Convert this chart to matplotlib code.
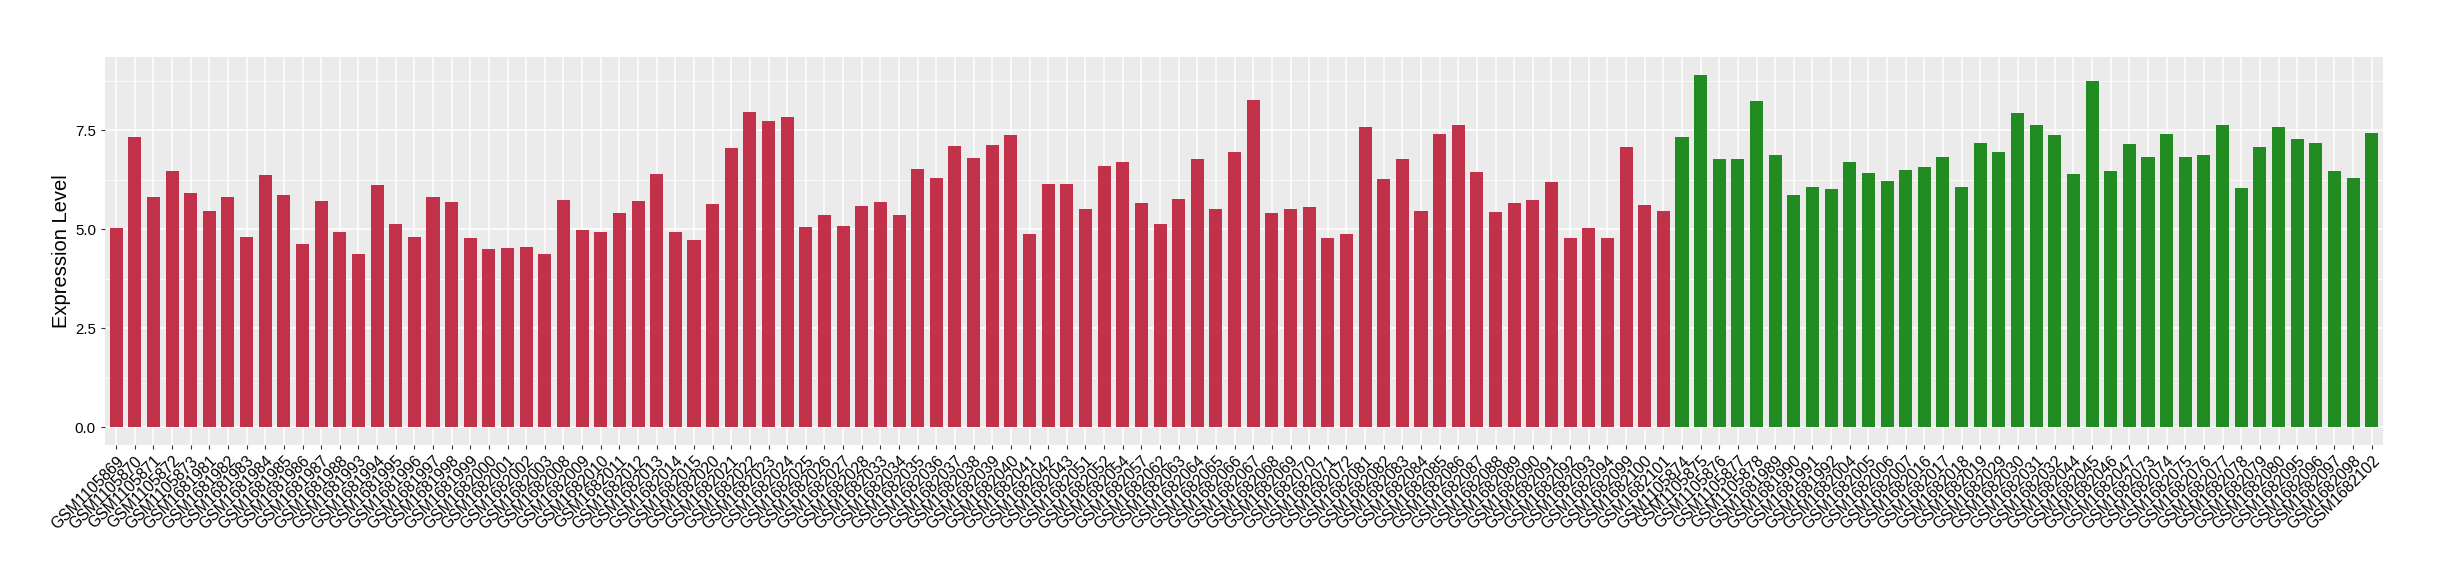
import matplotlib
matplotlib.use("Agg")
import matplotlib.pyplot as plt
import numpy as np
from matplotlib.ticker import MultipleLocator

plt.rcParams['font.family'] = ['Liberation Sans', 'DejaVu Sans']

group_a_samples = [
    "GSM1105869", "GSM1105870", "GSM1105871", "GSM1105872", "GSM1105873",
    "GSM1681981", "GSM1681982", "GSM1681983", "GSM1681984", "GSM1681985",
    "GSM1681986", "GSM1681987", "GSM1681988", "GSM1681993", "GSM1681994",
    "GSM1681995", "GSM1681996", "GSM1681997", "GSM1681998", "GSM1681999",
    "GSM1682000", "GSM1682001", "GSM1682002", "GSM1682003", "GSM1682008",
    "GSM1682009", "GSM1682010", "GSM1682011", "GSM1682012", "GSM1682013",
    "GSM1682014", "GSM1682015", "GSM1682020", "GSM1682021", "GSM1682022",
    "GSM1682023", "GSM1682024", "GSM1682025", "GSM1682026", "GSM1682027",
    "GSM1682028", "GSM1682033", "GSM1682034", "GSM1682035", "GSM1682036",
    "GSM1682037", "GSM1682038", "GSM1682039", "GSM1682040", "GSM1682041",
    "GSM1682042", "GSM1682043", "GSM1682051", "GSM1682052", "GSM1682054",
    "GSM1682057", "GSM1682062", "GSM1682063", "GSM1682064", "GSM1682065",
    "GSM1682066", "GSM1682067", "GSM1682068", "GSM1682069", "GSM1682070",
    "GSM1682071", "GSM1682072", "GSM1682081", "GSM1682082", "GSM1682083",
    "GSM1682084", "GSM1682085", "GSM1682086", "GSM1682087", "GSM1682088",
    "GSM1682089", "GSM1682090", "GSM1682091", "GSM1682092", "GSM1682093",
    "GSM1682094", "GSM1682099", "GSM1682100", "GSM1682101",
]
group_a_values = [
    5.03, 7.32, 5.81, 6.46, 5.91, 5.46, 5.81, 4.81, 6.36, 5.86,
    4.63, 5.71, 4.93, 4.38, 6.11, 5.13, 4.81, 5.81, 5.69, 4.78,
    4.51, 4.53, 4.56, 4.38, 5.74, 4.98, 4.93, 5.41, 5.71, 6.39,
    4.93, 4.73, 5.64, 7.04, 7.97, 7.74, 7.82, 5.06, 5.36, 5.08,
    5.59, 5.69, 5.36, 6.51, 6.29, 7.09, 6.79, 7.12, 7.37, 4.88,
    6.14, 6.14, 5.51, 6.59, 6.69, 5.66, 5.13, 5.76, 6.76, 5.51,
    6.94, 8.27, 5.41, 5.51, 5.56, 4.78, 4.88, 7.57, 6.26, 6.76,
    5.46, 7.39, 7.62, 6.44, 5.43, 5.66, 5.74, 6.19, 4.78, 5.03,
    4.78, 7.07, 5.61, 5.46,
]

group_b_samples = [
    "GSM1105874", "GSM1105875", "GSM1105876", "GSM1105877", "GSM1105878",
    "GSM1681989", "GSM1681990", "GSM1681991", "GSM1681992", "GSM1682004",
    "GSM1682005", "GSM1682006", "GSM1682007", "GSM1682016", "GSM1682017",
    "GSM1682018", "GSM1682019", "GSM1682029", "GSM1682030", "GSM1682031",
    "GSM1682032", "GSM1682044", "GSM1682045", "GSM1682046", "GSM1682047",
    "GSM1682073", "GSM1682074", "GSM1682075", "GSM1682076", "GSM1682077",
    "GSM1682078", "GSM1682079", "GSM1682080", "GSM1682095", "GSM1682096",
    "GSM1682097", "GSM1682098", "GSM1682102",
]
group_b_values = [
    7.32, 8.90, 6.76, 6.76, 8.24, 6.86, 5.86, 6.06, 6.01, 6.69,
    6.41, 6.21, 6.49, 6.56, 6.81, 6.06, 7.17, 6.94, 7.92, 7.62,
    7.37, 6.39, 8.75, 6.46, 7.14, 6.81, 7.39, 6.81, 6.86, 7.64,
    6.04, 7.07, 7.57, 7.27, 7.17, 6.46, 6.29, 7.42,
]

color_a = "#C2314A"
color_b = "#228B22"
y_label = "Expression Level"

samples = group_a_samples + group_b_samples
values = group_a_values + group_b_values
colors = [color_a] * len(group_a_values) + [color_b] * len(group_b_values)

fig = plt.figure(figsize=(24.4, 5.8), dpi=100)
ax = fig.add_axes([0.043, 0.2328, 0.9766 - 0.043, 0.9017 - 0.2328])

x = np.arange(len(samples))
ax.bar(x, values, width=0.7, color=colors, zorder=3)

n = len(samples)
ax.set_xlim(-0.6, n - 1 + 0.6)
vmax = max(values)
ax.set_ylim(-0.05 * vmax, vmax * 1.05)

ax.set_facecolor("#EBEBEB")
for s in ax.spines.values():
    s.set_visible(False)

ax.yaxis.set_minor_locator(MultipleLocator(1.25))
ax.set_yticks([0, 2.5, 5.0, 7.5])
ax.set_yticklabels(["0.0", "2.5", "5.0", "7.5"])
ax.grid(which="major", color="white", linewidth=1.1, zorder=0)
ax.grid(which="minor", axis="y", color="white", linewidth=0.55, zorder=0)
ax.set_axisbelow(True)

ax.set_xticks(x)
ax.set_xticklabels(samples, rotation=45, ha="right", va="top",
                   rotation_mode="anchor", fontsize=11.3, color="black")
ax.tick_params(axis="both", which="major", length=3, width=0.8,
               color="#333333", labelcolor="black")
ax.tick_params(axis="y", which="major", labelsize=10.8)
ax.tick_params(axis="y", which="minor", length=0)
ax.tick_params(axis="x", pad=3)
ax.set_ylabel(y_label, fontsize=14.5, labelpad=3)

fig.savefig("out.png", dpi=100, facecolor="white")
